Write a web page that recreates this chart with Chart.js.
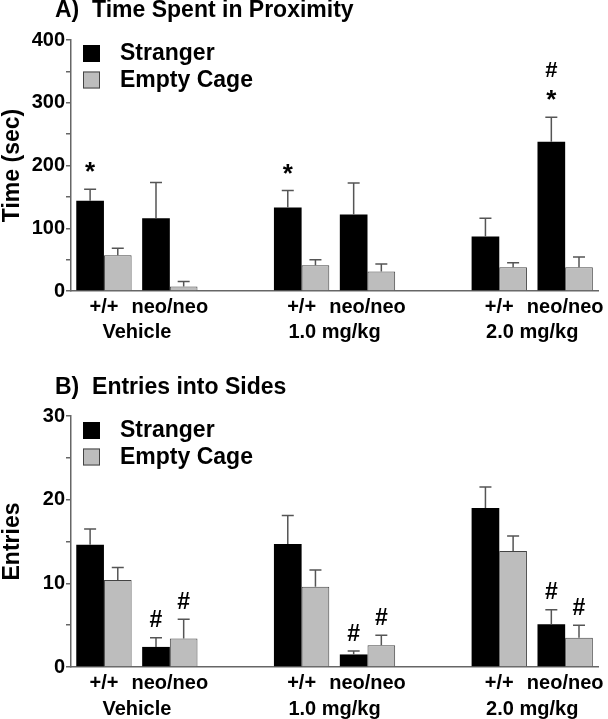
<!DOCTYPE html>
<html>
<head>
<meta charset="utf-8">
<script src="https://cdn.jsdelivr.net/npm/chart.js@4"></script>
<style>
  body { margin: 0; background: #fff; }
  .wrap { position: absolute; left: 0; width: 608px; }
  #wrapA { top: 0; height: 360px; }
  #wrapB { top: 360px; height: 359px; }
</style>
</head>
<body>
<div class="wrap" id="wrapA"><canvas id="chartA"></canvas></div>
<div class="wrap" id="wrapB"><canvas id="chartB"></canvas></div>
<script>
// categories (blank slots separate the dose groups)
const categories = ['+/+', 'neo/neo', '', '+/+', 'neo/neo', '', '+/+', 'neo/neo'];
const groups = ['Vehicle', '1.0 mg/kg', '2.0 mg/kg'];
const groupSlots = [[0, 1], [3, 4], [6, 7]];
const seriesNames = ['Stranger', 'Empty Cage'];

// A) time spent in proximity (sec)
const timeStranger = [144, 116, null, 133, 122, null, 87, 238];
const timeStrangerErr = [162, 173, null, 160, 172, null, 116, 277];
const timeEmpty = [57, 7, null, 41, 31, null, 38, 38];
const timeEmptyErr = [68, 15, null, 50, 43, null, 45, 54];
const timeStrangerMarks = [['*'], [], [], ['*'], [], [], [], ['*', '#']];
const timeEmptyMarks = [[], [], [], [], [], [], [], []];

// B) entries into sides
const entriesStranger = [14.6, 2.4, null, 14.7, 1.5, null, 19.0, 5.1];
const entriesStrangerErr = [16.5, 3.5, null, 18.1, 1.9, null, 21.5, 6.85];
const entriesEmpty = [10.4, 3.4, null, 9.6, 2.6, null, 13.85, 3.5];
const entriesEmptyErr = [11.9, 5.7, null, 11.6, 3.8, null, 15.65, 5.0];
const entriesStrangerMarks = [[], ['#'], [], [], ['#'], [], [], ['#']];
const entriesEmptyMarks = [[], ['#'], [], [], ['#'], [], [], ['#']];

const FONT = '"Liberation Sans", Arial, Helvetica, sans-serif';
const axisColor = '#666';

// error bars, significance marks, legend, panel title and group labels
const decorPlugin = {
    id: 'decor',
    afterDatasetsDraw(chart, args, opts) {
        const ctx = chart.ctx;
        const yScale = chart.scales.y;
        ctx.save();
        chart.data.datasets.forEach((ds, i) => {
            const meta = chart.getDatasetMeta(i);
            meta.data.forEach((bar, j) => {
                const err = ds.errors[j];
                if (err == null) return;
                const yErr = yScale.getPixelForValue(err);
                ctx.strokeStyle = '#555';
                ctx.lineWidth = 1.5;
                ctx.beginPath();
                ctx.moveTo(bar.x, bar.y);
                ctx.lineTo(bar.x, yErr);
                ctx.moveTo(bar.x - 6, yErr);
                ctx.lineTo(bar.x + 6, yErr);
                ctx.stroke();

                ctx.fillStyle = '#000';
                ctx.textAlign = 'center';
                ctx.textBaseline = 'alphabetic';
                let base = yErr - opts.markGap;
                ds.marks[j].forEach(m => {
                    const size = m === '*' ? 26 : opts.hashSize;
                    ctx.font = `bold ${size}px ${FONT}`;
                    ctx.fillText(m, bar.x, base);
                    base -= opts.markStep;
                });
            });
        });
        ctx.restore();
    },
    afterDraw(chart, args, opts) {
        const ctx = chart.ctx;
        const area = chart.chartArea;
        const xScale = chart.scales.x;
        ctx.save();
        ctx.fillStyle = '#000';

        // panel title
        ctx.font = `bold 23px ${FONT}`;
        ctx.textAlign = 'left';
        ctx.textBaseline = 'alphabetic';
        ctx.fillText(opts.title, 55, opts.titleY);

        // legend
        chart.data.datasets.forEach((ds, i) => {
            const bx = area.left + 12;
            const by = area.top + opts.legendTop + i * 26.5;
            ctx.fillStyle = ds.backgroundColor;
            ctx.fillRect(bx, by, 17, 17);
            if (ds.borderWidth) {
                ctx.strokeStyle = ds.borderColor;
                ctx.lineWidth = 1;
                ctx.strokeRect(bx + 0.5, by + 0.5, 16, 16);
            }
            ctx.fillStyle = '#000';
            ctx.font = `bold 23px ${FONT}`;
            ctx.textBaseline = 'middle';
            ctx.fillText(ds.label, bx + 37, by + 9);
        });

        // dose group labels under each pair
        ctx.font = `bold 20px ${FONT}`;
        ctx.textAlign = 'center';
        ctx.textBaseline = 'alphabetic';
        groups.forEach((g, k) => {
            const [a, b] = groupSlots[k];
            const cx = (xScale.getPixelForValue(a) + xScale.getPixelForValue(b)) / 2;
            ctx.fillText(g, cx, opts.groupY);
        });
        ctx.restore();
    }
};

function makeChart(id, cfg) {
    return new Chart(document.getElementById(id), {
        type: 'bar',
        data: {
            labels: categories,
            datasets: [{
                label: seriesNames[0],
                data: cfg.stranger,
                errors: cfg.strangerErr,
                marks: cfg.strangerMarks,
                backgroundColor: '#000',
                borderWidth: 0
            }, {
                label: seriesNames[1],
                data: cfg.empty,
                errors: cfg.emptyErr,
                marks: cfg.emptyMarks,
                backgroundColor: '#bdbdbd',
                borderColor: '#444',
                borderWidth: 1
            }]
        },
        options: {
            responsive: true,
            maintainAspectRatio: false,
            animation: false,
            layout: { padding: { top: cfg.padTop, right: 8, left: 0, bottom: 0 } },
            datasets: { bar: { categoryPercentage: 0.84, barPercentage: 1.0 } },
            plugins: {
                legend: { display: false },
                tooltip: { enabled: false },
                decor: cfg.decor
            },
            scales: {
                x: {
                    afterFit: s => { s.height = cfg.xHeight; },
                    grid: { display: true, drawOnChartArea: false, drawTicks: false },
                    border: { display: true, color: axisColor, width: 1.5 },
                    ticks: {
                        color: '#000',
                        padding: 4,
                        autoSkip: false,
                        maxRotation: 0,
                        font: { family: FONT, size: 20, weight: 'bold' }
                    }
                },
                y: {
                    min: 0,
                    max: cfg.max,
                    afterFit: s => { s.width = 71; },
                    title: {
                        display: true,
                        text: cfg.yTitle,
                        color: '#000',
                        padding: 0,
                        font: { family: FONT, size: 23, weight: 'bold', lineHeight: 1.1 }
                    },
                    grid: { display: true, drawOnChartArea: false, drawTicks: true, tickLength: 5, color: axisColor, lineWidth: 1.5 },
                    border: { display: true, color: axisColor, width: 1.5 },
                    ticks: {
                        stepSize: cfg.step / 2,
                        color: '#000',
                        padding: 1,
                        font: { family: FONT, size: 20, weight: 'bold' },
                        callback: v => (v % cfg.step === 0 ? v : '')
                    }
                }
            }
        },
        plugins: [decorPlugin]
    });
}

makeChart('chartA', {
    stranger: timeStranger, strangerErr: timeStrangerErr, strangerMarks: timeStrangerMarks,
    empty: timeEmpty, emptyErr: timeEmptyErr, emptyMarks: timeEmptyMarks,
    max: 400, step: 100, yTitle: 'Time (sec)',
    padTop: 40, xHeight: 69,
    decor: { title: 'A)  Time Spent in Proximity', titleY: 17, legendTop: 5, groupY: 338, markGap: 9, markStep: 31, hashSize: 22 }
});

makeChart('chartB', {
    stranger: entriesStranger, strangerErr: entriesStrangerErr, strangerMarks: entriesStrangerMarks,
    empty: entriesEmpty, emptyErr: entriesEmptyErr, emptyMarks: entriesEmptyMarks,
    max: 30, step: 10, yTitle: 'Entries',
    padTop: 56, xHeight: 52,
    decor: { title: 'B)  Entries into Sides', titleY: 34, legendTop: 6, groupY: 355, markGap: 10.5, markStep: 31, hashSize: 23 }
});
</script>
</body>
</html>
